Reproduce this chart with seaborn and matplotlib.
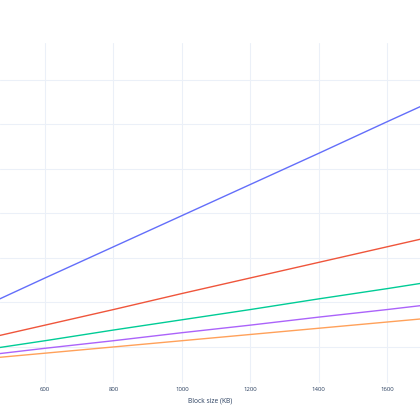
import matplotlib
matplotlib.use("Agg")
import matplotlib.pyplot as plt
import pandas as pd
import seaborn as sns

# block sizes (KB) and transfer times (y units estimated)
block_kb = [400, 600, 800, 1000, 1200, 1400, 1600, 1800]
series_a = [18.4, 25.5, 32.5, 39.5, 46.5, 53.5, 60.6, 67.6]
series_b = [11.4, 14.9, 18.4, 22.0, 25.5, 29.0, 32.5, 36.0]
series_c = [9.1, 11.4, 13.8, 16.1, 18.4, 20.8, 23.1, 25.5]
series_d = [7.9, 9.7, 11.4, 13.2, 14.9, 16.7, 18.4, 20.2]
series_e = [7.2, 8.6, 10.0, 11.4, 12.8, 14.2, 15.6, 17.0]
names = ["1x", "2x", "3x", "4x", "5x"]
colors = ["#636EFA", "#EF553B", "#00CC96", "#AB63FA", "#FFA15A"]

rows = []
for name, vals in zip(names, [series_a, series_b, series_c, series_d, series_e]):
    for x, y in zip(block_kb, vals):
        rows.append({"block": x, "time": y, "series": name})
df = pd.DataFrame(rows)

sns.set_style("white")
plt.rcParams["font.family"] = ["Open Sans", "DejaVu Sans"]

fig = plt.figure(figsize=(4.2, 4.2), dpi=100)
ax = fig.add_axes([0, 1 - 383 / 420, 1, 340 / 420])

sns.lineplot(data=df, x="block", y="time", hue="series", palette=colors,
             hue_order=names, linewidth=1.0, legend=False, ax=ax)

ax.set_xlim(468.4, 1696.5)
ax.set_ylim(1.9, 78.3)
ax.set_xticks([600, 800, 1000, 1200, 1400, 1600])
ax.set_yticks([10, 20, 30, 40, 50, 60, 70])
ax.grid(True, color="#EBF0F8", linewidth=0.75)
ax.set_axisbelow(True)
for s in ax.spines.values():
    s.set_visible(False)
ax.tick_params(axis="x", length=0, pad=3, labelsize=4.3, labelcolor="#2a3f5f")
ax.tick_params(axis="y", length=0, labelleft=False)
ax.set_ylabel("")
ax.set_xlabel("Block size (KB)", fontsize=4.8, color="#2a3f5f", labelpad=4)

fig.savefig("out.png", dpi=100)
